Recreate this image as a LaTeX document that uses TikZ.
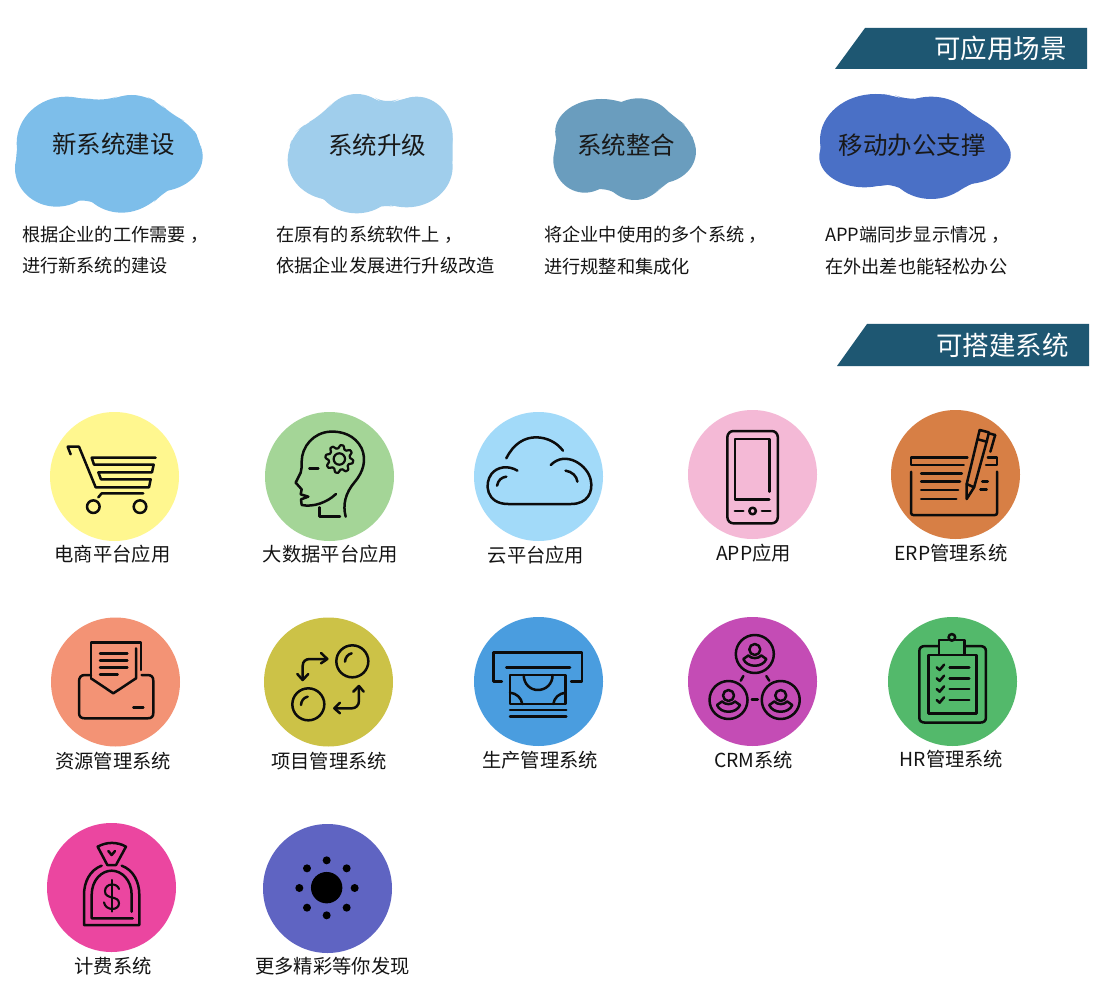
\documentclass[tikz,border=0pt]{standalone}
\usepackage{fontspec}
\setmainfont{Noto Sans CJK SC}
\definecolor{bannerc}{HTML}{1E5772}
\definecolor{txtc}{HTML}{141414}
\definecolor{icoc}{HTML}{0C0C0C}
\definecolor{cloudA}{RGB}{125,190,234}
\definecolor{cloudB}{RGB}{160,206,236}
\definecolor{cloudC}{RGB}{106,157,190}
\definecolor{cloudD}{RGB}{74,112,198}
\newcommand{\lobe}[4]{\path[fill] (#1,#2) ellipse [x radius=#3,y radius=#4];}
\newcommand{\cma}{\kern4.5pt，}
\tikzset{
  disc/.style={circle,minimum size=129pt,inner sep=0pt,draw=none},
  bannertxt/.style={text=white,font=\fontsize{26.5}{30}\selectfont,inner sep=0pt},
  cloudtxt/.style={text=black!90,font=\fontsize{24.5}{28}\selectfont,inner sep=0pt},
  desctxt/.style={text=txtc,anchor=west,font=\fontsize{18.2}{22}\selectfont,inner sep=0pt},
  labeltxt/.style={text=txtc,font=\fontsize{19.3}{22}\selectfont,inner sep=0pt},
  ico/.style={draw=icoc,line width=2.5pt,line cap=round,line join=round},
  cloudbody/.style={fill,rounded corners=14pt},
  zooma/.style={shift={(30,400)},x=.33333pt,y=-.33333pt},
  zoomb/.style={shift={(460,400)},x=.37037pt,y=-.33333pt},
  zoomc/.style={shift={(30,610)},x=.33333pt,y=-.33333pt},
  zoomd/.style={shift={(460,610)},x=.37037pt,y=-.33333pt},
  zoome/.style={shift={(30,815)},x=.33333pt,y=-.33333pt},
  zoomf/.style={shift={(0,80)},x=.33333pt,y=-.33333pt},
  zoomg/.style={shift={(520,0)},x=.37037pt,y=-.33333pt},
}
\begin{document}
\begin{tikzpicture}[x=1pt,y=-1pt]
\useasboundingbox (0,0) rectangle (1103,1000);
\fill[white] (0,0) rectangle (1103,1000);
% banners
\fill[bannerc] (865,28) -- (1087,28) -- (1087,69) -- (835,69) -- cycle;
\fill[bannerc] (867,324) -- (1089,324) -- (1089,366) -- (837,366) -- cycle;
\node[bannertxt] (b1) at (1000.5,48) {可应用场景};
\node[bannertxt] (b2) at (1002.5,345) {可搭建系统};
% clouds
\begin{scope}[zoomf,fill=cloudA]
\path[cloudbody] (310,65) -- (360,46) -- (430,45) -- (480,70) -- (515,105) -- (570,130) -- (605,190) -- (607,240) -- (580,295) -- (490,335) -- (450,380) -- (370,398) -- (310,385) -- (260,352) -- (175,380) -- (100,360) -- (55,315) -- (45,265) -- (55,170) -- (100,100) -- (170,62) -- (240,50) -- cycle;
\lobe{200}{190}{150}{140}
\lobe{395}{165}{120}{120}
\lobe{470}{230}{138}{105}
\lobe{365}{280}{130}{118}
\lobe{170}{265}{125}{115}
\end{scope}
\begin{scope}[zoomf,fill=cloudB]
\path[cloudbody] (1160,75) -- (1200,55) -- (1270,50) -- (1330,90) -- (1358,150) -- (1358,200) -- (1358,270) -- (1320,335) -- (1250,375) -- (1190,382) -- (1140,372) -- (1080,400) -- (1020,390) -- (970,355) -- (900,325) -- (870,270) -- (863,220) -- (880,160) -- (920,130) -- (965,105) -- (1000,65) -- (1060,42) -- (1120,50) -- cycle;
\lobe{1070}{170}{115}{128}
\lobe{1250}{170}{108}{120}
\lobe{1000}{240}{137}{120}
\lobe{1070}{300}{120}{100}
\lobe{1220}{260}{138}{122}
\end{scope}
\begin{scope}[zoomg,fill=cloudC]
\path[cloudbody] (275,313) -- (320,295) -- (370,305) -- (415,350) -- (460,385) -- (475,450) -- (455,510) -- (395,548) -- (365,580) -- (310,600) -- (265,585) -- (235,558) -- (175,578) -- (120,555) -- (90,490) -- (97,410) -- (115,355) -- (170,310) -- (225,297) -- cycle;
\lobe{220}{395}{125}{98}
\lobe{320}{395}{100}{100}
\lobe{375}{455}{100}{95}
\lobe{310}{510}{85}{90}
\lobe{175}{480}{85}{98}
\end{scope}
\begin{scope}[zoomg,fill=cloudD]
\path[cloudbody] (1048,302) -- (1110,290) -- (1180,305) -- (1230,350) -- (1290,385) -- (1325,460) -- (1295,525) -- (1210,552) -- (1170,585) -- (1110,597) -- (1050,580) -- (1005,548) -- (930,562) -- (860,545) -- (810,490) -- (813,380) -- (860,320) -- (960,282) -- (1010,285) -- cycle;
\lobe{960}{420}{150}{138}
\lobe{1110}{400}{125}{110}
\lobe{1195}{465}{130}{88}
\lobe{1110}{495}{115}{102}
\lobe{930}{470}{122}{92}
\end{scope}
\node[cloudtxt] (c1) at (113.5,144) {新系统建设};
\node[cloudtxt] (c2) at (377,145) {系统升级};
\node[cloudtxt] (c3) at (626,145) {系统整合};
\node[cloudtxt] (c4) at (912,145) {移动办公支撑};
\node[desctxt] (d1a) at (22,235) {根据企业的工作需要\cma};
\node[desctxt] (d1b) at (22,266) {进行新系统的建设};
\node[desctxt] (d2a) at (276,235) {在原有的系统软件上\cma};
\node[desctxt] (d2b) at (276,266) {依据企业发展进行升级改造};
\node[desctxt] (d3a) at (544,235) {将企业中使用的多个系统\cma};
\node[desctxt] (d3b) at (544,267) {进行规整和集成化};
\node[desctxt] (d4a) at (825,235) {APP端同步显示情况\cma};
\node[desctxt] (d4b) at (825,267) {在外出差也能轻松办公};
% discs
\node[disc,fill={rgb,255:red,255;green,247;blue,143}] (n1) at (114.5,476.5) {};
\node[disc,fill={rgb,255:red,164;green,213;blue,151}] (n2) at (329.5,476.5) {};
\node[disc,fill={rgb,255:red,162;green,218;blue,249}] (n3) at (538.5,476.5) {};
\node[disc,fill={rgb,255:red,244;green,185;blue,214}] (n4) at (752.5,474.5) {};
\node[disc,fill={rgb,255:red,215;green,127;blue,69}] (n5) at (955.5,474.5) {};
\node[disc,fill={rgb,255:red,243;green,147;blue,117}] (n6) at (115.5,682) {};
\node[disc,fill={rgb,255:red,204;green,194;blue,71}] (n7) at (328.5,682) {};
\node[disc,fill={rgb,255:red,74;green,157;blue,223}] (n8) at (538.5,681.5) {};
\node[disc,fill={rgb,255:red,196;green,76;blue,181}] (n9) at (752.5,681.5) {};
\node[disc,fill={rgb,255:red,83;green,185;blue,107}] (n10) at (952.5,681.5) {};
\node[disc,fill={rgb,255:red,235;green,70;blue,160}] (n11) at (111.5,887.5) {};
\node[disc,fill={rgb,255:red,95;green,100;blue,194}] (n12) at (327.5,888.5) {};
% labels
\node[labeltxt] (l1) at (112.5,554) {电商平台应用};
\node[labeltxt] (l2) at (330.5,554) {大数据平台应用};
\node[labeltxt] (l3) at (536,555) {云平台应用};
\node[labeltxt] (l4) at (753.5,553) {APP应用};
\node[labeltxt] (l5) at (951,553) {ERP管理系统};
\node[labeltxt] (l6) at (113,761) {资源管理系统};
\node[labeltxt] (l7) at (329,761) {项目管理系统};
\node[labeltxt] (l8) at (540,760) {生产管理系统};
\node[labeltxt] (l9) at (753.5,760) {CRM系统};
\node[labeltxt] (l10) at (951.5,759) {HR管理系统};
\node[labeltxt] (l11) at (113,966.5) {计费系统};
\node[labeltxt] (l12) at (332.5,966) {更多精彩等你发现};
% icons row 1
\begin{scope}[zooma]
% cart
\draw[ico] (122,163) -- (113,140) -- (147,140) -- (197,262) -- (357,262) -- (362,238) -- (213,238) -- (205,217) -- (366,217) -- (371,194) -- (192,194) -- (185,173) -- (377,173);
\draw[ico] (205,292) -- (215,280) -- (340,280);
\draw[ico] (190,320) circle (6.3pt);
\draw[ico] (330,320) circle (6.3pt);
% head
\draw[ico] (868,322) -- (868,350) -- (930,350);
\draw[ico] (947,350) .. controls (938,315) and (945,280) .. (975,245) .. controls (1000,215) and (1010,180) .. (995,145) .. controls (975,105) and (935,93) .. (900,95) .. controls (850,98) and (815,140) .. (815,185) .. controls (815,200) and (815,210) .. (812,218) -- (797,248) -- (815,268) -- (812,283) -- (835,290) -- (813,298) -- (815,315) .. controls (850,322) and (890,308) .. (918,282);
\draw[ico] (838,205) -- (865,205);
\draw[ico,line width=2.2pt] (928,177) circle (5.7pt);
\draw[ico,line width=2.2pt] plot[domain=0:360,samples=121,variable=\t] ({928+(37+7*max(-.7,min(.7,sin(8*\t))))*cos(\t)},{177+(37+7*max(-.7,min(.7,sin(8*\t))))*sin(\t)}) -- cycle;
\end{scope}
\begin{scope}[zoomb]
% cloud
\draw[ico] (125,175) .. controls (145,130) and (175,112) .. (205,112) .. controls (235,112) and (262,128) .. (278,152);
\draw[ico] (155,212) .. controls (130,195) and (100,200) .. (85,222) .. controls (65,250) and (70,312) .. (130,312) -- (300,312) .. controls (345,312) and (360,275) .. (353,240) .. controls (345,195) and (285,150) .. (245,195);
\draw[ico] (100,257) .. controls (103,240) and (112,232) .. (125,230);
\draw[ico] (285,212) .. controls (303,215) and (315,228) .. (317,245);
% phone
\draw[ico,rounded corners=6pt] (722,93) rectangle (858,370);
\draw[ico] (835,275) -- (835,117) -- (743,117) -- (743,298) -- (835,298);
\draw[ico] (742,333) -- (765,333);
\draw[ico] (790,333) circle (3.3pt);
\draw[ico] (815,333) -- (838,333);
% notebook and pen
\draw[ico] (1370,173) -- (1218,173) -- (1218,195) -- (1360,195);
\draw[ico] (1425,173) -- (1450,173) -- (1450,195) -- (1420,195);
\draw[ico,rounded corners=2pt] (1218,215) -- (1218,345) -- (1450,345) -- (1450,215);
\draw[ico] (1245,220) -- (1355,220);
\draw[ico] (1245,245) -- (1350,245);
\draw[ico] (1245,270) -- (1345,270);
\draw[ico] (1245,297) -- (1340,297);
\draw[ico] (1410,245) -- (1425,245);
\draw[ico] (1405,268) -- (1422,268);
\draw[ico] (1368,297) -- (1368,252) -- (1403,90) -- (1428,97) -- (1422,125) -- (1388,262) -- cycle;
\draw[ico] (1368,252) -- (1388,262);
\draw[ico] (1398,118) -- (1422,125);
\draw[ico] (1445,105) -- (1432,155);
\draw[ico] (1428,100) -- (1445,105);
\end{scope}
% icons row 2
\begin{scope}[zoomc]
% envelope
\draw[ico] (183,205) -- (183,98) -- (333,98) -- (333,180);
\draw[ico] (318,115) -- (318,205) -- (250,250) -- (183,205);
\draw[ico] (183,195) -- (165,195) .. controls (152,195) and (147,203) .. (147,215) -- (147,308) .. controls (147,320) and (153,325) .. (165,325) -- (352,325) .. controls (365,325) and (370,320) .. (370,308) -- (370,213) .. controls (370,201) and (365,195) .. (352,195) -- (335,195);
\draw[ico] (210,130) -- (292,130);
\draw[ico] (210,151) -- (292,151);
\draw[ico] (210,172) -- (292,172);
\draw[ico] (210,193) -- (263,193);
\draw[ico] (310,293) -- (340,293);
% arrows and circles
\draw[ico] (967,154) circle (16pt);
\draw[ico] (835,283) circle (16pt);
\draw[ico] (945,155) .. controls (946,142) and (953,133) .. (965,130);
\draw[ico] (813,285) .. controls (814,272) and (821,263) .. (833,260);
\draw[ico] (818,208) -- (818,168) .. controls (818,153) and (828,147) .. (840,147) -- (890,147);
\draw[ico] (873,129) -- (892,147) -- (873,160);
\draw[ico] (802,192) -- (818,210) -- (835,192);
\draw[ico] (987,232) -- (987,272) .. controls (987,287) and (977,295) .. (965,295) -- (915,295);
\draw[ico] (970,245) -- (987,228) -- (1001,245);
\draw[ico] (930,278) -- (913,295) -- (930,310);
\end{scope}
\begin{scope}[zoomd]
% money slot
\draw[ico] (113,215) -- (90,215) -- (90,127) -- (330,127) -- (330,215) -- (300,215);
\draw[ico] (125,172) -- (297,172);
\draw[ico] (135,195) rectangle (285,282);
\draw[ico] (172,195) .. controls (172,222) and (190,240) .. (210,240) .. controls (232,240) and (250,222) .. (250,195);
\draw[ico] (135,248) .. controls (153,250) and (166,264) .. (168,282);
\draw[ico] (285,248) .. controls (267,250) and (254,264) .. (252,282);
\draw[ico] (135,300) -- (287,300);
\draw[ico] (135,320) -- (287,320);
% people
\foreach \c/\d in {796/132,725/270,866/270}{
  \begin{scope}[shift={(\c,\d)},x=1pt,y=-1pt]
  \draw[ico] (0,0) circle (19pt);
  \draw[ico] (0,-4.5) circle (5.5pt);
  \draw[ico] (-11.5,5) -- (-6.5,1.5) .. controls (-3,5) and (3,5) .. (6.5,1.5) -- (11.5,5) .. controls (8,14) and (-8,14) .. (-11.5,5) -- cycle;
  \end{scope}
}
\draw[ico] (765,198) -- (758,212);
\draw[ico] (827,198) -- (835,212);
\draw[ico] (788,268) -- (804,268);
% clipboard
\draw[ico] (1290,108) -- (1258,108) .. controls (1245,108) and (1240,113) .. (1240,125) -- (1240,322) .. controls (1240,333) and (1245,338) .. (1258,338) -- (1402,338) .. controls (1415,338) and (1420,333) .. (1420,322) -- (1420,125) .. controls (1420,113) and (1415,108) .. (1402,108) -- (1365,108);
\draw[ico] (1293,135) -- (1265,135) -- (1265,310) -- (1395,310) -- (1395,135) -- (1362,135);
\draw[ico] (1318,90) -- (1293,90) -- (1293,135) -- (1362,135) -- (1362,90) -- (1338,90);
\draw[ico] (1328,82) circle (3.3pt);
\foreach \y in {172,205,237,270}{
  \draw[ico] (1287,\y) -- (1295,\y+8) -- (1307,\y-8);
  \draw[ico] (1322,\y) -- (1375,\y);
}
\end{scope}
% icons row 3
\begin{scope}[zoome]
% money bag
\draw[ico] (203,95) .. controls (230,80) and (262,80) .. (288,95) -- (258,150) -- (232,150) -- cycle;
\draw[ico] (235,108) -- (245,120) -- (255,108);
\draw[ico] (215,152) .. controls (180,165) and (162,200) .. (162,240) -- (162,330) -- (328,330) -- (328,240) .. controls (328,200) and (310,165) .. (275,152);
\draw[ico] (305,290) -- (305,240) .. controls (305,195) and (275,167) .. (245,167) .. controls (215,167) and (185,195) .. (185,240) -- (185,310) -- (308,310);
\draw[ico,line width=2.1pt] (267,222) .. controls (262,203) and (226,203) .. (225,228) .. controls (224,255) and (267,240) .. (267,265) .. controls (267,288) and (226,288) .. (222,262);
\draw[ico,line width=2.1pt] (245,195) -- (245,290);
% sun
\fill[black] (890,218) circle (15.7pt);
\foreach \p/\q in {890/136,950/160,974/219,950/278,890/301,831/278,808/219,831/160}{
  \fill[black] (\p,\q) circle (4pt);
}
\end{scope}
\end{tikzpicture}
\end{document}
